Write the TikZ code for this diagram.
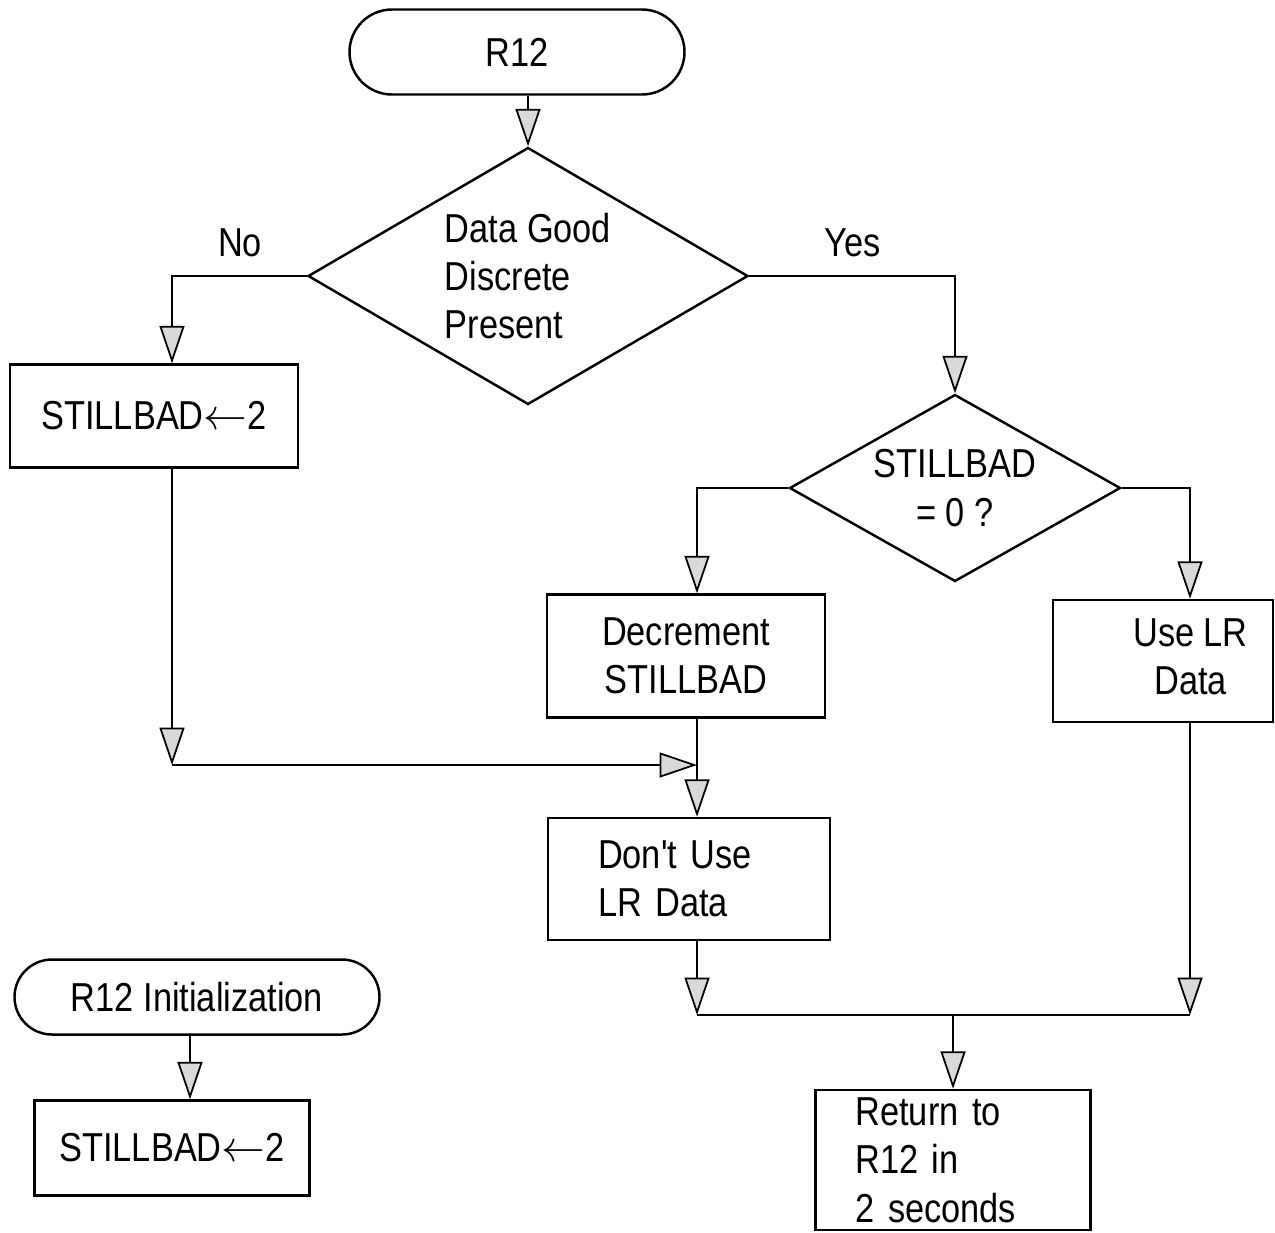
\documentclass[tikz,border=0pt]{standalone}
\usepackage{fontspec}
\setmainfont{Liberation Sans}[FakeStretch=0.85, Ligatures=TeXOff]
\usetikzlibrary{shapes.geometric, arrows.meta, positioning}

\tikzset{
  box/.style={draw, line width=1.4pt, rectangle, inner sep=0pt, align=center},
  term/.style={draw, line width=1.4pt, rectangle, inner sep=0pt, align=center},
  decision/.style={draw, diamond, line width=1.4pt, inner sep=0pt, align=left},
  flow/.style={line width=1.4pt, -{Triangle[length=0.75cm, width=0.5cm, fill=gray!30, line width=1pt]}},
  link/.style={line width=1.4pt}
}

\begin{document}
\begin{tikzpicture}[font=\fontsize{23}{27.5}\selectfont]
\useasboundingbox (0,0) rectangle (25.5,-24.64);

% Terminals, boxes and decisions
\node[term, rounded corners=0.85cm, minimum width=6.7cm, minimum height=1.7cm] (r12) at (10.34,-1.04) {R12};
\node[decision, aspect=1.7, minimum width=8.8cm, minimum height=5.14cm] (d1) at (10.56,-5.52) {Data Good\\Discrete\\Present};
\node[box, minimum width=5.76cm, minimum height=2.06cm] (bad) at (3.08,-8.32) {STILLBAD$\leftarrow$2};
\node[decision, aspect=1.77, align=center, minimum width=6.62cm, minimum height=3.74cm] (d2) at (19.1,-9.76) {STILLBAD\\= 0 ?};
\node[box, minimum width=5.56cm, minimum height=2.46cm] (dec) at (13.72,-13.12) {Decrement\\STILLBAD};
\node[box, minimum width=4.4cm, minimum height=2.44cm] (uselr) at (23.26,-13.22) {\hskip1.1cm\begin{tabular}{@{}c@{}}Use LR\\Data\end{tabular}};
\node[box, align=left, text width=3.64cm, minimum width=5.64cm, minimum height=2.44cm] (dont) at (13.78,-17.58) {Don't Use\\LR Data};
\node[box, align=left, text width=3.9cm, minimum width=5.5cm, minimum height=2.8cm] (ret) at (19.06,-23.2) {Return to\\R12 in\\2 seconds};
\node[term, rounded corners=0.75cm, minimum width=7.3cm, minimum height=1.5cm] (init) at (3.94,-19.94) {R12 Initialization};
\node[box, minimum width=5.5cm, minimum height=1.9cm] (bad2) at (3.44,-22.96) {STILLBAD$\leftarrow$2};

% Branch labels
\node (no) at (4.8,-4.86) {No};
\node (yes) at (17.06,-4.86) {Yes};

% Line positions
\coordinate (lx) at (3.44,0);
\coordinate (mx) at (13.94,0);
\coordinate (rx) at (23.8,0);
\coordinate (ix) at (3.8,0);
\coordinate (j1) at (3.44,-15.3);
\coordinate (j2) at (13.94,-20.3);

% Connectors
\draw[flow] (d1.north |- r12.south) -- (d1.north);
\draw[flow] (d1.west) -| (lx |- bad.north);
\draw[flow] (lx |- bad.south) -- (j1);
\draw[flow] (j1) -- (mx |- j1);
\draw[flow] (d1.east) -| (d2.north);
\draw[flow] (d2.west) -| (mx |- dec.north);
\draw[flow] (d2.east) -| (rx |- uselr.north);
\draw[flow] (mx |- dec.south) -- (mx |- dont.north);
\draw[flow] (mx |- dont.south) -- (j2);
\draw[flow] (rx |- uselr.south) -- (rx |- j2);
\draw[link] (j2) -- (rx |- j2);
\draw[flow] (ret.north |- j2) -- (ret.north);
\draw[flow] (ix |- init.south) -- (ix |- bad2.north);

\end{tikzpicture}
\end{document}
